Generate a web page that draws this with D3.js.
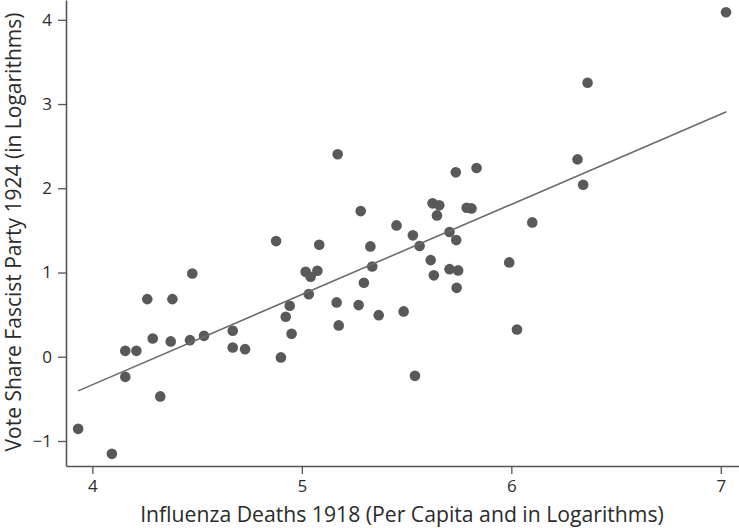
<!DOCTYPE html>
<html>
<head>
<meta charset="utf-8">
<script src="https://cdn.jsdelivr.net/npm/d3@7"></script>
<style>
  html, body { margin: 0; padding: 0; background: #fff; }
  svg { display: block; }
  text { font-family: "Open Sans", "Noto Sans", sans-serif; fill: #2b2b2b; }
</style>
</head>
<body>
<svg id="chart" width="739" height="528"></svg>
<script>
// Influenza deaths 1918 (log per capita)
const fluDeaths = [
  3.932, 4.093, 4.157, 4.210, 4.157, 4.262, 4.382, 4.477, 4.288, 4.374,
  4.324, 4.466, 4.533, 4.670, 4.670, 4.729, 4.900, 4.923, 4.942, 4.951,
  5.018, 5.042, 5.074, 5.033, 5.166, 5.176, 5.271, 5.296, 5.336, 5.367,
  5.486, 5.540, 5.171, 5.281, 5.452, 4.877, 5.083, 5.327, 5.735, 5.834,
  5.624, 5.656, 5.645, 5.787, 5.810, 5.530, 5.562, 5.705, 5.737, 6.100,
  5.615, 5.630, 5.705, 5.746, 5.739, 5.990, 6.027, 6.364, 6.316, 6.343,
  7.025
];
// Fascist party vote share 1924 (log)
const voteShare = [
  -0.856, -1.153, 0.070, 0.070, -0.239, 0.684, 0.684, 0.989, 0.217, 0.182,
  -0.471, 0.197, 0.248, 0.308, 0.110, 0.090, -0.008, 0.474, 0.605, 0.272,
  1.008, 0.949, 1.020, 0.743, 0.645, 0.372, 0.613, 0.878, 1.072, 0.494,
  0.538, -0.227, 2.403, 1.729, 1.559, 1.373, 1.329, 1.310, 2.189, 2.240,
  1.821, 1.797, 1.678, 1.768, 1.761, 1.441, 1.314, 1.480, 1.385, 1.595,
  1.147, 0.966, 1.040, 1.025, 0.818, 1.120, 0.324, 3.253, 2.343, 2.042,
  4.089
];
// Fitted regression line end points
const fitX = [3.932, 7.027];
const fitY = [-0.405, 2.909];

const xTicks = [4, 5, 6, 7];
const yTicks = [-1, 0, 1, 2, 3, 4];
const xTitle = "Influenza Deaths 1918 (Per Capita and in Logarithms)";
const yTitle = "Vote Share Fascist Party 1924 (in Logarithms)";

const svg = d3.select("#chart");
const mLeft = 66, mRight = 739, mTop = 0, mBottom = 466;

const x = d3.scaleLinear().domain([3.874, 7.087]).range([mLeft, mRight]);
const y = d3.scaleLinear().domain([-1.297, 4.235]).range([mBottom, mTop]);

const axisColor = "#555";

// X axis
const gx = svg.append("g").attr("transform", `translate(0,${mBottom})`)
  .call(d3.axisBottom(x).tickValues(xTicks).tickSize(8).tickSizeOuter(0).tickPadding(6).tickFormat(d3.format("d")));
gx.select(".domain").attr("stroke", axisColor).attr("stroke-width", 1.6);
gx.selectAll(".tick line").attr("stroke", axisColor).attr("stroke-width", 1.3);
gx.selectAll(".tick text").attr("font-size", 17).style("fill", "#2b2b2b")
  .style("font-family", '"Open Sans", sans-serif');

// Y axis
const gy = svg.append("g").attr("transform", `translate(${mLeft},0)`)
  .call(d3.axisLeft(y).tickValues(yTicks).tickSize(8).tickSizeOuter(0).tickPadding(6).tickFormat(d3.format("d")));
gy.select(".domain").attr("stroke", axisColor).attr("stroke-width", 1.6);
gy.selectAll(".tick line").attr("stroke", axisColor).attr("stroke-width", 1.3);
gy.selectAll(".tick text").attr("font-size", 17).style("fill", "#2b2b2b")
  .style("font-family", '"Open Sans", sans-serif');

// Points
const pts = fluDeaths.map((d, i) => ({ x: d, y: voteShare[i] }));
svg.append("g").selectAll("circle").data(pts).join("circle")
  .attr("cx", d => x(d.x)).attr("cy", d => y(d.y)).attr("r", 5.3)
  .attr("fill", "#595959");

// Fit line
svg.append("path")
  .datum(fitX.map((d, i) => [d, fitY[i]]))
  .attr("d", d3.line().x(d => x(d[0])).y(d => y(d[1])))
  .attr("fill", "none").attr("stroke", "#6a6a6a").attr("stroke-width", 1.6);

// Titles
svg.append("text").attr("x", 402).attr("y", 522).attr("text-anchor", "middle")
  .attr("font-size", 21.2).text(xTitle);
svg.append("text").attr("transform", "translate(20.5,232) rotate(-90)")
  .attr("text-anchor", "middle").attr("font-size", 21).text(yTitle);
</script>
</body>
</html>
